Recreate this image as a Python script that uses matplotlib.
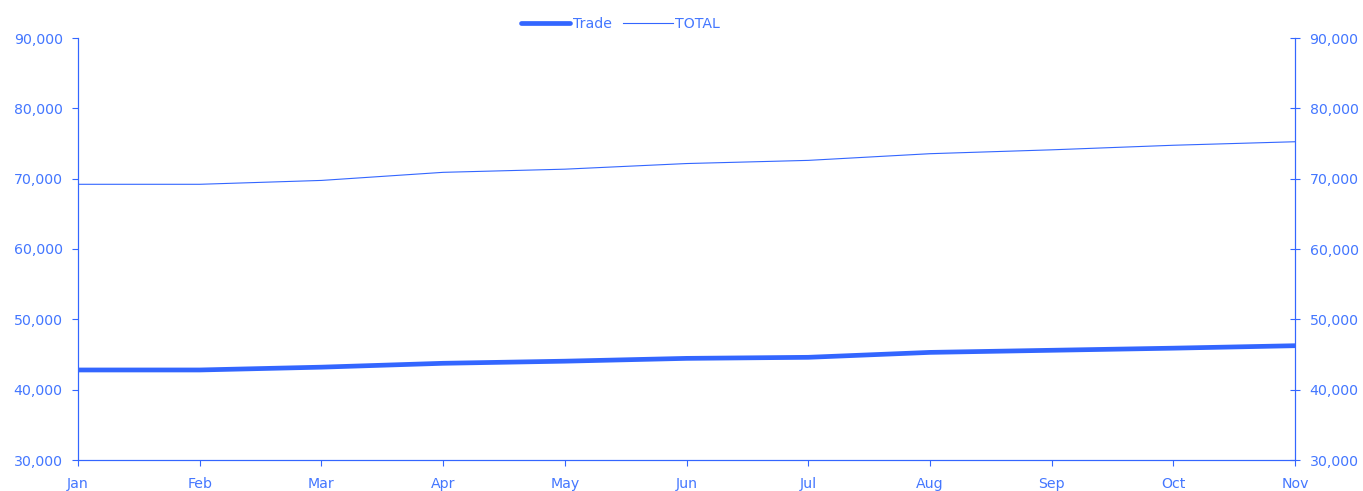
import matplotlib.pyplot as plt
from matplotlib.ticker import FuncFormatter

# ============================================================
# Data
# ============================================================
months = ["Jan", "Feb", "Mar", "Apr", "May", "Jun", "Jul", "Aug", "Sep", "Oct", "Nov"]
trade = [42800, 42800, 43200, 43750, 44050, 44450, 44600, 45300, 45600, 45900, 46250]
total = [69200, 69200, 69750, 70900, 71350, 72150, 72600, 73550, 74100, 74750, 75250]
# ============================================================

line_color = '#3366FF'
text_color = '#4477FF'

plt.rcParams['font.family'] = ['DejaVu Sans']
plt.rcParams['font.size'] = 10.2

fig = plt.figure(figsize=(13.63, 4.91), dpi=100)
ax = fig.add_axes([78 / 1363, 31 / 491, (1295 - 78) / 1363, (460 - 38) / 491])

x = range(len(months))
ax.plot(x, trade, color=line_color, linewidth=3.4, label='Trade', solid_capstyle='round')
ax.plot(x, total, color=line_color, linewidth=0.8, label='TOTAL')

ax.set_xlim(0, len(months) - 1)
ax.set_ylim(30000, 90000)
ax.set_xticks(list(x))
ax.set_xticklabels(months)
ax.set_yticks(range(30000, 90001, 10000))
fmt = FuncFormatter(lambda v, p: f"{int(v):,}")
ax.yaxis.set_major_formatter(fmt)

# right-hand axis mirrors the left one
ax2 = ax.twinx()
ax2.set_ylim(ax.get_ylim())
ax2.set_yticks(range(30000, 90001, 10000))
ax2.yaxis.set_major_formatter(fmt)

for a in (ax, ax2):
    a.spines['top'].set_visible(False)
    for s in ('left', 'right', 'bottom'):
        a.spines[s].set_color(line_color)
        a.spines[s].set_linewidth(0.8)
    a.tick_params(colors=line_color, labelcolor=text_color, width=0.8, length=4)
ax.tick_params(axis='y', pad=7)
ax2.tick_params(axis='y', direction='inout', length=7, pad=7)
ax.tick_params(axis='x', pad=8)

fig.legend(loc='center', bbox_to_anchor=(0.455, 0.951), ncol=2, frameon=False,
           handlelength=3.5, handletextpad=0.15, columnspacing=0.8,
           labelcolor=text_color, fontsize=10.2)

plt.savefig('out.png', dpi=100)
